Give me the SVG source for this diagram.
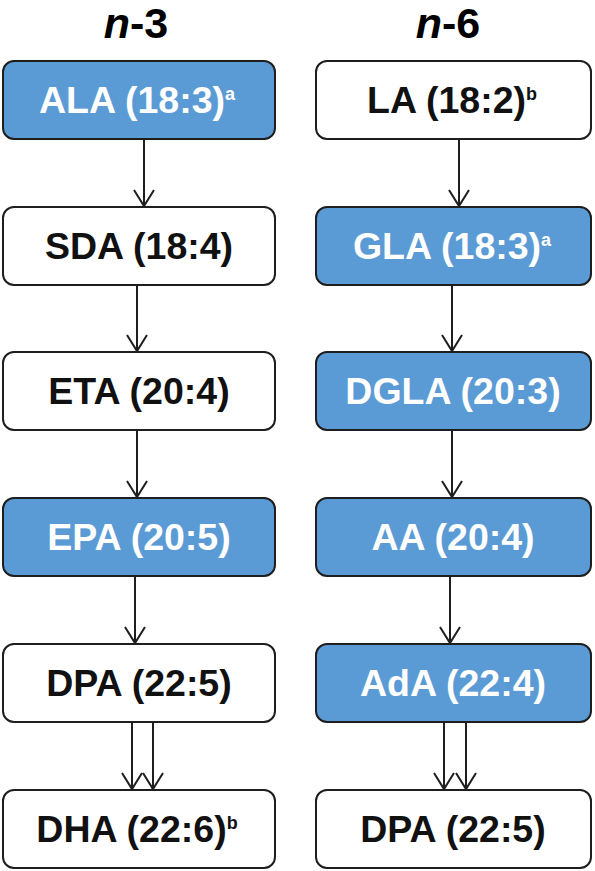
<svg xmlns="http://www.w3.org/2000/svg" width="595" height="871" viewBox="0 0 595 871">
<defs>
<style>
.box{stroke:#1e1e1e;stroke-width:2;}
.blue{fill:#5b9bd5;}
.white{fill:#ffffff;}
.t{font-family:"Liberation Sans",Arial,sans-serif;font-weight:bold;font-size:37.5px;text-anchor:middle;}
.tw{fill:#ffffff;}
.tb{fill:#111111;}
.sup{font-size:18px;}
.title{font-family:"Liberation Sans",Arial,sans-serif;font-weight:bold;font-size:43px;text-anchor:middle;fill:#000;}
.c{stroke:#1e1e1e;stroke-width:2;fill:none;marker-end:url(#ah);}
</style>
<marker id="ah" markerUnits="userSpaceOnUse" markerWidth="20" markerHeight="24" refX="17" refY="11" orient="auto" viewBox="0 0 20 22">
<path d="M1 1 L17 11 L1 21" fill="none" stroke="#1e1e1e" stroke-width="2"/>
</marker>
</defs>
<rect width="595" height="871" fill="#ffffff"/>
<g id="titles">
<text class="title" x="136" y="38"><tspan font-style="italic">n</tspan>-3</text>
<text class="title" x="448" y="38"><tspan font-style="italic">n</tspan>-6</text>
</g>
<g id="connectors">
<path class="c" d="M144 139 V206"/>
<path class="c" d="M137 285 V351"/>
<path class="c" d="M137 430 V497"/>
<path class="c" d="M135 576 V643"/>
<path class="c" d="M132 722 V789"/>
<path class="c" d="M153 722 V789"/>
<path class="c" d="M459 139 V206"/>
<path class="c" d="M452 285 V351"/>
<path class="c" d="M452 430 V497"/>
<path class="c" d="M450 576 V643"/>
<path class="c" d="M444 722 V789"/>
<path class="c" d="M466 722 V789"/>
</g>
<g id="ALA"><rect class="box blue" x="3" y="61" width="272" height="78" rx="11"/><text class="t tw" x="137" y="113">ALA (18:3)<tspan class="sup" dy="-13">a</tspan></text></g>
<g id="SDA"><rect class="box white" x="3" y="207" width="272" height="78" rx="11"/><text class="t tb" x="139" y="259">SDA (18:4)</text></g>
<g id="ETA"><rect class="box white" x="3" y="352" width="272" height="78" rx="11"/><text class="t tb" x="139" y="404">ETA (20:4)</text></g>
<g id="EPA"><rect class="box blue" x="3" y="498" width="272" height="78" rx="11"/><text class="t tw" x="139" y="550">EPA (20:5)</text></g>
<g id="DPA-n3"><rect class="box white" x="3" y="644" width="272" height="78" rx="11"/><text class="t tb" x="139" y="696">DPA (22:5)</text></g>
<g id="DHA"><rect class="box white" x="3" y="790" width="272" height="78" rx="11"/><text class="t tb" x="137" y="842">DHA (22:6)<tspan class="sup" dy="-13">b</tspan></text></g>
<g id="LA"><rect class="box white" x="316" y="61" width="275" height="78" rx="11"/><text class="t tb" x="452" y="113">LA (18:2)<tspan class="sup" dy="-13">b</tspan></text></g>
<g id="GLA"><rect class="box blue" x="316" y="207" width="275" height="78" rx="11"/><text class="t tw" x="452" y="259">GLA (18:3)<tspan class="sup" dy="-13">a</tspan></text></g>
<g id="DGLA"><rect class="box blue" x="316" y="352" width="275" height="78" rx="11"/><text class="t tw" x="453" y="404">DGLA (20:3)</text></g>
<g id="AA"><rect class="box blue" x="316" y="498" width="275" height="78" rx="11"/><text class="t tw" x="453" y="550">AA (20:4)</text></g>
<g id="AdA"><rect class="box blue" x="316" y="644" width="275" height="78" rx="11"/><text class="t tw" x="453" y="696">AdA (22:4)</text></g>
<g id="DPA-n6"><rect class="box white" x="316" y="790" width="275" height="78" rx="11"/><text class="t tb" x="453" y="842">DPA (22:5)</text></g>
</svg>
